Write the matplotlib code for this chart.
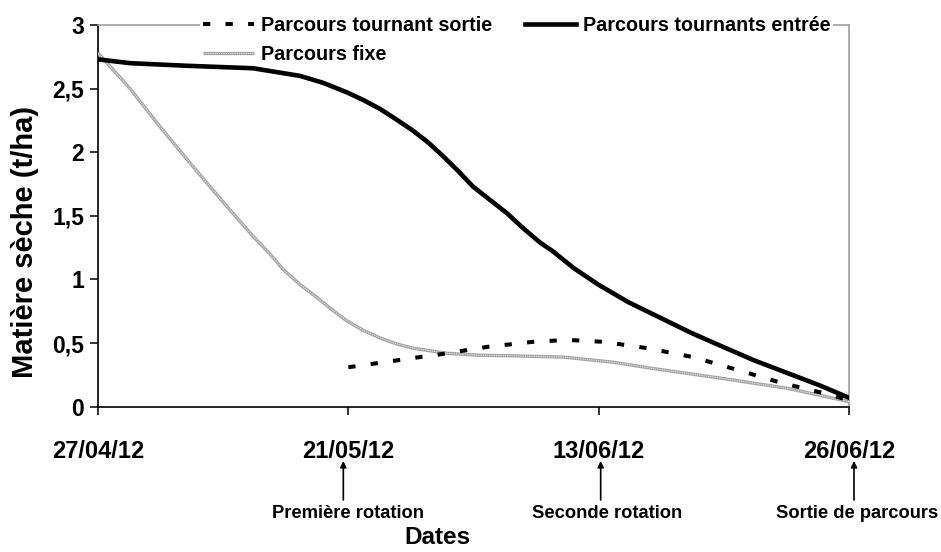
import matplotlib
matplotlib.use("Agg")
import matplotlib.pyplot as plt
import matplotlib.transforms as mtransforms
from matplotlib.legend_handler import HandlerTuple

plt.rcParams['font.family'] = ['Liberation Sans', 'DejaVu Sans']
plt.rcParams['font.weight'] = 'bold'

# ---- data (x in category units: 0=27/04/12, 1=21/05/12, 2=13/06/12, 3=26/06/12)
date_labels = ["27/04/12", "21/05/12", "13/06/12", "26/06/12"]
y_tick_values = [0, 0.5, 1, 1.5, 2, 2.5, 3]
y_tick_labels = ["0", "0,5", "1", "1,5", "2", "2,5", "3"]

entree_x = [0.0, 0.128, 0.35, 0.619, 0.807, 0.9, 0.995, 1.06, 1.127, 1.19, 1.258, 1.32, 1.378,
            1.44, 1.498, 1.566, 1.634, 1.70, 1.766, 1.818, 1.90, 1.998, 2.12, 2.245, 2.37,
            2.497, 2.62, 2.753, 2.88, 3.0]
entree_y = [2.73, 2.70, 2.68, 2.66, 2.60, 2.545, 2.47, 2.41, 2.34, 2.26, 2.17, 2.075, 1.97,
            1.85, 1.73, 1.625, 1.52, 1.40, 1.29, 1.22, 1.09, 0.96, 0.82, 0.70, 0.58,
            0.47, 0.365, 0.265, 0.17, 0.07]

fixe_x = [0.0, 0.128, 0.248, 0.374, 0.499, 0.619, 0.687, 0.739, 0.807, 0.874,
          0.93, 0.99, 1.06, 1.127, 1.19, 1.258, 1.393, 1.52, 1.657, 1.858, 2.057, 2.217,
          2.485, 2.753, 3.0]
fixe_y = [2.78, 2.50, 2.20, 1.90, 1.61, 1.34, 1.20, 1.08, 0.96, 0.86,
          0.77, 0.68, 0.60, 0.54, 0.495, 0.46, 0.42, 0.405, 0.40, 0.39, 0.35, 0.30,
          0.225, 0.145, 0.04]

sortie_x = [1.0, 1.286, 1.378, 1.554, 1.738, 1.874, 2.018, 2.194, 2.377, 2.553,
            2.725, 2.912, 3.0]
sortie_y = [0.31, 0.39, 0.415, 0.47, 0.51, 0.525, 0.51, 0.46, 0.39, 0.29,
            0.19, 0.10, 0.05]

events = ["Première rotation", "Seconde rotation", "Sortie de parcours"]
event_pos = [1, 2, 3]

# ---- figure
fig = plt.figure(figsize=(9.41, 5.52), dpi=100)
ax = fig.add_axes([98/941, 1-406.7/552, (849-98)/941, (406.7-25)/552])

l_fixe_base, = ax.plot(fixe_x, fixe_y, color='#a4a4a4', lw=2.4, solid_capstyle='butt',
                       solid_joinstyle='round', zorder=3)
l_fixe_top, = ax.plot(fixe_x, fixe_y, color='#e8e8e8', lw=0.8, linestyle=(0, (1, 1)), zorder=3.1)
l_sortie, = ax.plot(sortie_x, sortie_y, color='black', lw=2.9, linestyle=(0, (1.8, 3.8)), zorder=3.5)
l_entree, = ax.plot(entree_x, entree_y, color='black', lw=3.3, solid_joinstyle='round', zorder=4)

ax.set_xlim(0, 3)
ax.set_ylim(0, 3)
ax.set_xticks(range(len(date_labels)))
ax.set_xticklabels(date_labels, fontsize=17, fontweight='bold')
ax.set_yticks(y_tick_values)
ax.set_yticklabels(y_tick_labels, fontsize=16.5, fontweight='bold')
ax.tick_params(axis='both', direction='out', length=6, width=1.1, color='black')
ax.tick_params(axis='x', pad=18)
ax.tick_params(axis='y', pad=4)

for s in ['left', 'bottom']:
    ax.spines[s].set_color('black')
    ax.spines[s].set_linewidth(1.2)
for s in ['top', 'right']:
    ax.spines[s].set_color('#a0a0a0')
    ax.spines[s].set_linewidth(1.2)

ax.set_ylabel("Matière sèche (t/ha)", fontsize=21, fontweight='bold', va='center')
ax.yaxis.set_label_coords(-0.0975, 0.432)
fig.text(437/941, 1-538/552, "Dates", ha='center', va='center', fontsize=17.5, fontweight='bold')

# event annotations under the axis
trans = mtransforms.blended_transform_factory(ax.transData, fig.transFigure)
arrow_dx = [-0.02, 0.008, 0.02]
text_dx = [0.0, 0.032, 0.031]
for name, p, adx, tdx in zip(events, event_pos, arrow_dx, text_dx):
    ax.annotate("", xy=(p + adx, 1-461/552), xytext=(p + adx, 1-500/552),
                xycoords=trans, textcoords=trans,
                arrowprops=dict(arrowstyle='-|>', color='black', lw=1.2,
                                mutation_scale=9, shrinkA=0, shrinkB=0),
                annotation_clip=False)
    ax.text(p + tdx, 1-514/552, name, transform=trans, ha='center', va='center',
            fontsize=13.2, fontweight='bold', clip_on=False)

leg = ax.legend([l_sortie, (l_fixe_base, l_fixe_top), l_entree],
                ["Parcours tournant sortie", "Parcours fixe", "Parcours tournants entrée"],
                handler_map={tuple: HandlerTuple(ndivide=1)},
                ncol=2, loc='upper left', bbox_to_anchor=(200/941, 1-13/552),
                bbox_transform=fig.transFigure, frameon=True, fancybox=False,
                facecolor='white', edgecolor='none', framealpha=1,
                prop={'size': 14.2, 'weight': 'bold'}, handlelength=2.6,
                handletextpad=0.35, columnspacing=1.65, labelspacing=0.5,
                borderpad=0.15, borderaxespad=0)
leg.set_zorder(2.7)

fig.savefig("out.png", dpi=100)
